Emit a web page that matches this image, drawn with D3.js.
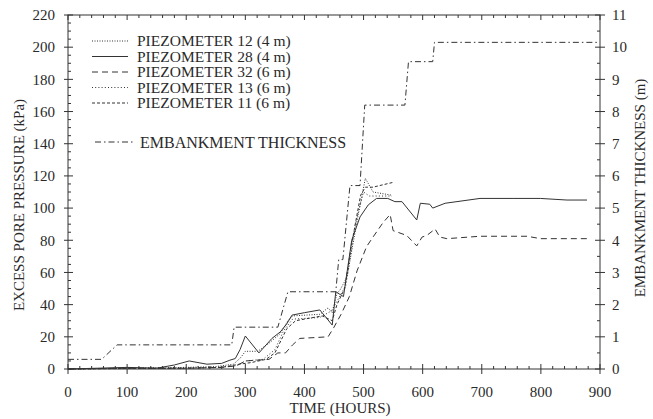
<!DOCTYPE html>
<html>
<head>
<meta charset="utf-8">
<script src="https://cdn.jsdelivr.net/npm/d3@7"></script>
<style>
  body { margin: 0; background: #fff; }
  svg text { font-family: "Liberation Serif", "Times New Roman", Times, serif; fill: #2a2a2a; }
</style>
</head>
<body>
<svg id="chart"></svg>
<script>
// Embankment thickness (m) vs time (hours)
const embHours = [0, 57, 83, 277, 281, 355, 372, 453, 458, 465, 477, 494, 502, 570, 576, 617, 620, 897];
const embThick = [0.3, 0.3, 0.75, 0.75, 1.3, 1.3, 2.4, 2.4, 3.4, 3.4, 5.7, 5.7, 8.2, 8.2, 9.55, 9.55, 10.15, 10.15];

// Piezometer 28 (4 m) - solid
const p28Hours = [0, 50, 100, 150, 180, 205, 235, 260, 274, 283, 291, 300, 323, 345, 359, 370, 379, 400, 426, 447, 453, 466, 480, 494, 508, 522, 541, 553, 565, 590, 596, 612, 617, 638, 697, 753, 799, 844, 878];
const p28Kpa   = [0, 0.5, 1, 0.5, 2.5, 5, 3, 3.5, 5.5, 6.5, 12, 20.5, 10, 19, 23, 28, 33.5, 35, 36.7, 27.3, 48, 45, 80, 94.5, 102, 106, 106, 104, 104, 92.6, 103, 102.4, 100, 103, 106, 106, 106, 105, 105];

// Piezometer 32 (6 m) - long dash
const p32Hours = [0, 100, 200, 260, 285, 300, 340, 355, 368, 380, 392, 440, 450, 462, 476, 489, 505, 516, 533, 545, 550, 573, 590, 599, 607, 621, 629, 641, 697, 777, 799, 878];
const p32Kpa   = [0, 0.5, 0.5, 1, 2, 5, 6, 10, 10, 15, 19, 20, 26, 34, 45, 61, 76, 82, 91, 96, 86, 83, 76.5, 82, 83, 87, 82, 81, 82.5, 82.5, 81, 81];

// Piezometer 12 (4 m) - dotted
const p12Hours = [0, 100, 200, 250, 280, 292, 300, 321, 340, 359, 372, 380, 426, 440, 447, 455, 460, 472, 491, 503, 516, 548];
const p12Kpa   = [0, 0.5, 1, 1.5, 3, 7, 11, 11, 16, 22, 30, 33, 34, 38, 35, 47, 49, 57, 96, 118.5, 110, 108];

// Piezometer 13 (6 m) - dotted
const p13Hours = [0, 100, 200, 250, 285, 300, 330, 350, 365, 380, 426, 445, 452, 470, 486, 500, 510, 548];
const p13Kpa   = [0, 0.5, 0.5, 1, 2, 5, 6, 12, 24, 31, 32, 36, 40, 52, 90, 110, 107.5, 107.5];

// Piezometer 11 (6 m) - short dash
const p11Hours = [0, 100, 200, 260, 290, 310, 335, 350, 370, 385, 430, 447, 455, 468, 480, 495, 503, 516, 550];
const p11Kpa   = [0, 0.3, 0.5, 1, 3, 4, 6, 10, 25, 30, 33, 30, 40, 50, 78, 108, 113, 113, 116];

const xTicks = [0, 100, 200, 300, 400, 500, 600, 700, 800, 900];
const yTicks = [0, 20, 40, 60, 80, 100, 120, 140, 160, 180, 200, 220];
const y2Ticks = [0, 1, 2, 3, 4, 5, 6, 7, 8, 9, 10, 11];

const legendLabels = ["PIEZOMETER 12 (4 m)", "PIEZOMETER 28 (4 m)", "PIEZOMETER 32 (6 m)", "PIEZOMETER 13 (6 m)", "PIEZOMETER 11 (6 m)"];

const width = 653, height = 419;
const margin = { top: 15, right: 53, bottom: 50, left: 68 };

const svg = d3.select("#chart").attr("width", width).attr("height", height);

const x = d3.scaleLinear().domain([0, 900]).range([margin.left, width - margin.right]);
const y = d3.scaleLinear().domain([0, 220]).range([height - margin.bottom, margin.top]);
const y2 = d3.scaleLinear().domain([0, 11]).range([height - margin.bottom, margin.top]);

const ink = "#333";
const serif = '"Liberation Serif", "Times New Roman", Times, serif';

// frame
svg.append("rect")
  .attr("x", x(0)).attr("y", y(220))
  .attr("width", x(900) - x(0)).attr("height", y(0) - y(220))
  .attr("fill", "none").attr("stroke", ink).attr("stroke-width", 1);

// ticks on all four sides
const minorX = d3.range(0, 901, 20).filter(v => v % 100 !== 0);
const minorY = d3.range(0, 221, 5).filter(v => v % 20 !== 0);
const minorY2 = d3.range(0.5, 11, 1);

const tg = svg.append("g").attr("stroke", ink).attr("stroke-width", 1);
const line = (x1, y1, x2, y2_) => tg.append("line").attr("x1", x1).attr("y1", y1).attr("x2", x2).attr("y2", y2_);

xTicks.forEach(v => { line(x(v), y(0) - 5, x(v), y(0) + 5); line(x(v), y(220), x(v), y(220) + 5); });
minorX.forEach(v => { line(x(v), y(0) - 3, x(v), y(0)); line(x(v), y(220), x(v), y(220) + 3); });
yTicks.forEach(v => line(x(0) - 4, y(v), x(0) + 5, y(v)));
minorY.forEach(v => line(x(0), y(v), x(0) + 3, y(v)));
y2Ticks.forEach(v => line(x(900) - 5, y2(v), x(900) + 5, y2(v)));
minorY2.forEach(v => line(x(900) - 3, y2(v), x(900), y2(v)));

// tick labels
svg.append("g").selectAll("text").data(xTicks).join("text")
  .attr("font-family", serif)
  .attr("x", d => x(d)).attr("y", y(0) + 28)
  .attr("text-anchor", "middle").attr("font-size", 15).text(d => d);
svg.append("g").selectAll("text").data(yTicks).join("text")
  .attr("font-family", serif)
  .attr("x", x(0) - 13).attr("y", d => y(d)).attr("dy", "0.35em")
  .attr("text-anchor", "end").attr("font-size", 15).text(d => d);
svg.append("g").selectAll("text").data(y2Ticks).join("text")
  .attr("font-family", serif)
  .attr("x", x(900) + 12).attr("y", d => y2(d)).attr("dy", "0.35em")
  .attr("text-anchor", "start").attr("font-size", 15).text(d => d);

// axis titles
svg.append("text").attr("font-family", serif).attr("x", 340).attr("y", 413)
  .attr("text-anchor", "middle").attr("font-size", 15).text("TIME (HOURS)");
svg.append("text").attr("font-family", serif).attr("transform", `translate(24,205) rotate(-90)`)
  .attr("text-anchor", "middle").attr("font-size", 15).text("EXCESS PORE PRESSURE (kPa)");
svg.append("text").attr("font-family", serif).attr("transform", `translate(645,188) rotate(-90)`)
  .attr("text-anchor", "middle").attr("font-size", 15).text("EMBANKMENT THICKNESS (m)");

// series
const styles = {
  p12: "1,1.5",
  p28: null,
  p32: "6,4",
  p13: "1,2.2",
  p11: "3,2",
  emb: "6,3,1.5,3"
};

const lineGen = (ys) => d3.line().x(d => x(d[0])).y(d => ys(d[1]));
const series = [
  { h: p12Hours, v: p12Kpa, dash: styles.p12, s: y },
  { h: p28Hours, v: p28Kpa, dash: styles.p28, s: y },
  { h: p32Hours, v: p32Kpa, dash: styles.p32, s: y },
  { h: p13Hours, v: p13Kpa, dash: styles.p13, s: y },
  { h: p11Hours, v: p11Kpa, dash: styles.p11, s: y },
  { h: embHours, v: embThick, dash: styles.emb, s: y2 }
];

svg.append("g").selectAll("path").data(series).join("path")
  .attr("fill", "none").attr("stroke", ink).attr("stroke-width", 1)
  .attr("stroke-dasharray", d => d.dash)
  .attr("d", d => lineGen(d.s)(d.h.map((h, i) => [h, d.v[i]])));

// legend
const lg = svg.append("g");
const legendDashes = [styles.p12, styles.p28, styles.p32, styles.p13, styles.p11];
legendLabels.forEach((lab, i) => {
  const ly = 41 + i * 15.5;
  lg.append("line").attr("x1", 92).attr("x2", 128).attr("y1", ly).attr("y2", ly)
    .attr("stroke", ink).attr("stroke-width", 1).attr("stroke-dasharray", legendDashes[i]);
  lg.append("text").attr("font-family", serif).attr("x", 137).attr("y", ly).attr("dy", "0.35em")
    .attr("font-size", 15.5).text(lab);
});
lg.append("line").attr("x1", 95).attr("x2", 135).attr("y1", 142).attr("y2", 142)
  .attr("stroke", ink).attr("stroke-width", 1).attr("stroke-dasharray", styles.emb);
lg.append("text").attr("font-family", serif).attr("x", 140).attr("y", 142).attr("dy", "0.35em")
  .attr("font-size", 16).text("EMBANKMENT THICKNESS");
</script>
</body>
</html>
